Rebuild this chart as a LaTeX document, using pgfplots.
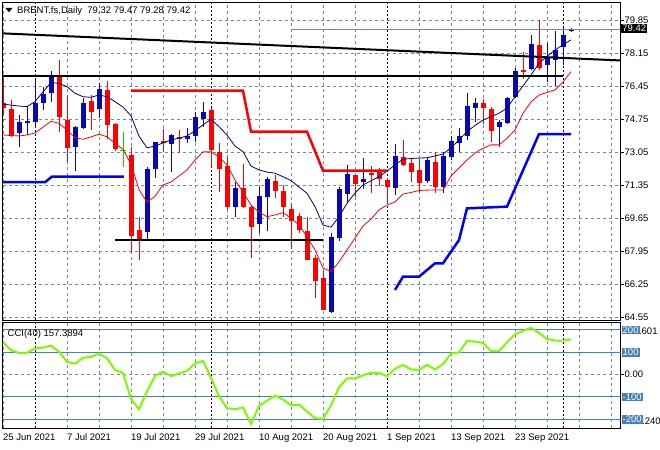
\documentclass[border=0pt]{standalone}
\usepackage{fontspec}
\setmainfont{Liberation Sans}
\usepackage{pgfplots}
\usepackage{pgfplotstable}
\pgfplotsset{compat=1.18}

\definecolor{gridc}{RGB}{119,136,153}
\definecolor{bullbody}{RGB}{12,12,150}
\definecolor{bullwick}{RGB}{0,0,235}
\definecolor{bearc}{RGB}{255,0,0}
\definecolor{manavy}{RGB}{0,0,128}
\definecolor{ccig}{RGB}{124,252,0}
\definecolor{steel}{RGB}{70,130,180}
\definecolor{stepblue}{RGB}{0,0,255}
\definecolor{dojig}{RGB}{0,220,0}

\newcommand\mtf{\fontsize{9.5bp}{11bp}\selectfont}

% bullish candles: bar index, open, high, low, close
\pgfplotstableread{
i O H L C
2 74.08 74.99 73.36 74.65
3 74.60 75.42 73.96 74.70
4 74.65 76.80 74.31 75.59
5 75.59 76.45 75.25 76.07
6 76.14 77.27 75.68 77.05
9 73.36 74.42 72.12 74.36
10 74.31 75.85 74.26 75.59
12 75.29 76.63 74.82 76.32
18 68.98 72.30 68.60 72.21
19 72.19 73.62 71.73 73.58
21 73.48 74.01 72.07 73.95
23 73.77 74.31 73.53 73.91
24 73.91 75.16 73.62 74.87
25 74.79 75.68 74.39 75.13
29 70.27 71.52 69.75 71.25
32 69.36 71.30 68.93 70.83
33 70.78 71.78 69.03 71.68
41 64.86 68.90 64.80 68.72
42 68.67 71.30 68.50 71.18
43 70.91 72.42 70.47 71.95
45 71.52 72.76 71.16 71.69
49 71.25 73.50 70.87 72.88
53 71.61 72.84 71.50 72.67
55 71.30 73.10 70.99 72.88
56 72.84 73.91 72.67 73.65
57 73.57 74.31 73.07 73.91
58 73.91 76.11 73.70 75.46
59 75.37 75.85 74.65 75.59
62 74.39 74.73 73.36 74.65
63 74.56 75.90 74.50 75.85
64 75.90 77.40 75.85 77.26
66 77.35 79.11 77.31 78.65
68 77.55 78.72 76.71 77.94
69 77.83 79.33 76.49 78.34
70 78.51 79.46 77.57 79.11
71 79.32 79.47 79.28 79.42
}\bull

% bearish candles
\pgfplotstableread{
i O H L C
0 75.59 76.88 74.99 75.34
1 75.30 75.76 73.87 73.93
7 77.05 77.83 74.13 74.90
8 74.73 76.02 72.58 73.31
11 75.71 76.02 74.22 75.16
13 76.28 76.76 73.76 74.48
14 74.53 74.60 73.15 73.24
16 72.93 73.36 67.87 68.76
17 69.07 69.75 67.52 68.59
20 73.65 74.25 73.10 73.58
22 73.86 74.22 73.05 73.79
26 75.25 75.34 72.33 73.19
27 73.07 73.53 71.04 72.21
28 72.36 72.81 70.13 70.27
30 71.25 72.45 70.20 70.27
31 70.27 70.30 67.61 69.24
34 71.59 71.90 70.70 71.09
35 71.08 71.39 69.75 70.24
36 70.15 70.47 68.07 69.55
37 69.79 69.93 68.90 69.07
38 69.02 69.75 67.50 67.52
39 67.61 67.78 65.55 66.45
40 66.58 66.97 64.93 64.95
44 71.90 71.92 70.78 71.44
46 71.99 72.36 70.99 71.90
47 72.07 72.25 71.33 71.68
48 71.64 71.73 70.41 71.30
50 72.81 73.70 72.36 72.42
51 72.53 72.76 71.52 72.04
52 72.16 72.71 71.04 71.50
54 72.55 73.10 70.96 71.30
60 75.59 75.80 74.53 75.34
61 75.30 75.42 73.62 74.18
65 77.31 78.25 76.83 77.22
67 78.60 79.89 77.31 77.43
}\bear

\pgfplotsset{
 mt/.style={
  scale only axis, width=618bp, xmin=-0.0625, xmax=77.1875, anchor=north west,
  axis line style={black, line width=0.8bp},
  ytick pos=right, yticklabel pos=right, tick align=outside,
  major tick length=3bp, minor tick length=0pt,
  xtick style={draw=none}, ytick style={black, line width=0.6bp},
  xmajorgrids, xminorgrids, ymajorgrids,
  major grid style={gridc, dash pattern=on 3bp off 3bp, line width=0.6bp},
  minor grid style={gridc, dash pattern=on 3bp off 3bp, line width=0.6bp},
  xtick={0,8,16,24,32,40,56,64},
  minor xtick={12,20,28,36,44,52,60,68,72,76},
  extra x ticks={4,26,48,70},
  extra x tick style={grid=major, xtick style={draw=none},
     major grid style={black, dash pattern=on 2bp off 2bp, line width=0.8bp}},
  tick label style={font=\mtf},
  yticklabel style={anchor=west, inner sep=1bp},
  clip=true,
 },
 wick/.style={only marks, mark size=0pt, mark options={draw=none, fill=none}, forget plot,
   error bars/.cd, y dir=both, y explicit, error mark=none,
   error bar style={draw=#1, line width=1bp, solid}},
 body/.style 2 args={only marks, mark size=0pt, mark options={draw=none, fill=none}, forget plot,
   error bars/.cd, y dir=both, y explicit, error mark=none,
   error bar style={draw=#1, line width=#2, solid}},
}

\begin{document}
\begin{tikzpicture}[x=1bp,y=1bp]
\path[use as bounding box, fill=white] (0,0) rectangle (660,-450);

% ---------------- main price panel ----------------
\begin{axis}[mt, at={(2.5bp,-2bp)}, height=318bp,
  ymin=64.43, ymax=80.81,
  ytick={64.55,66.25,67.95,69.65,71.35,73.05,74.75,76.45,78.15,79.85},
  yticklabels={64.55,66.25,67.95,69.65,71.35,73.05,74.75,76.45,78.15,79.85},
  xticklabels={}, extra x tick labels={}]

% bearish candles
\addplot[wick=bearc] table[x=i, y expr={(\thisrow{H}+\thisrow{L})/2}, y error expr={(\thisrow{H}-\thisrow{L})/2}] {\bear};
\addplot[body={bearc}{5bp}] table[x=i, y expr={(\thisrow{O}+\thisrow{C})/2}, y error expr={(\thisrow{O}-\thisrow{C})/2}] {\bear};
% bullish candles
\addplot[wick=bullwick] table[x=i, y expr={(\thisrow{H}+\thisrow{L})/2}, y error expr={(\thisrow{H}-\thisrow{L})/2}] {\bull};
\addplot[body={bullwick}{5bp}] table[x=i, y expr={(\thisrow{O}+\thisrow{C})/2}, y error expr={(\thisrow{C}-\thisrow{O})/2}] {\bull};
\addplot[body={bullbody}{3bp}] table[x=i, y expr={(\thisrow{O}+\thisrow{C})/2}, y error expr={max((\thisrow{C}-\thisrow{O})/2-0.05,0)}] {\bull};
% doji (bar 15)
\addplot[only marks, mark size=0pt, mark options={draw=none, fill=none}, forget plot, error bars/.cd, y dir=both, y explicit, error mark=none,
  error bar style={draw=dojig, line width=1bp}] coordinates {(15,73.215) +- (0,0.885)};
\addplot[only marks, mark size=0pt, mark options={draw=none, fill=none}, forget plot, error bars/.cd, x dir=both, x explicit, error mark=none,
  error bar style={draw=dojig, line width=1bp}] coordinates {(15,73.14) +- (0.375,0)};

% navy moving average
\addplot[manavy, line width=0.8bp, mark=none] coordinates {
(0,75.55)(1,75.50)(2,75.45)(3,75.42)(4,75.68)(5,76.18)(6,76.66)(7,76.62)(8,76.45)(9,76.11)
(10,75.93)(11,75.90)(12,76.02)(13,75.93)(14,75.68)(15,75.40)(16,74.95)(17,73.90)(18,73.30)(19,73.39)
(20,73.55)(21,73.70)(22,73.80)(23,73.91)(24,74.18)(25,74.48)(26,74.77)(27,74.39)(28,73.96)(29,73.39)
(30,73.10)(31,72.36)(32,72.16)(33,72.05)(34,71.99)(35,71.81)(36,71.61)(37,71.28)(38,70.96)(39,70.27)
(40,69.32)(41,69.21)(42,69.75)(43,70.44)(44,70.97)(45,71.39)(46,71.60)(47,71.81)(48,72.10)(49,72.42)
(50,72.71)(51,72.75)(52,72.77)(53,72.79)(54,72.88)(55,72.98)(56,73.30)(57,73.70)(58,74.13)(59,74.45)
(60,74.73)(61,74.90)(62,75.08)(63,75.34)(64,75.93)(65,76.49)(66,77.05)(67,77.66)(68,78.00)(69,78.34)
(70,78.60)(71,78.86)};
% red moving average
\addplot[bearc, line width=0.8bp, mark=none] coordinates {
(0,73.96)(1,73.93)(2,73.91)(3,73.96)(4,74.06)(5,74.36)(6,74.67)(7,74.56)(8,74.22)(9,73.81)
(10,73.74)(11,73.86)(12,74.00)(13,73.87)(14,73.53)(15,73.22)(16,72.45)(17,71.15)(18,70.50)(19,70.80)
(20,71.39)(21,71.54)(22,71.85)(23,72.16)(24,72.67)(25,73.09)(26,73.09)(27,72.83)(28,72.42)(29,71.64)
(30,71.02)(31,70.35)(32,69.99)(33,69.75)(34,69.84)(35,69.96)(36,69.68)(37,69.32)(38,68.72)(39,68.04)
(40,67.11)(41,66.92)(42,67.42)(43,68.04)(44,68.65)(45,69.27)(46,69.63)(47,70.10)(48,70.35)(49,70.51)
(50,70.92)(51,71.00)(52,71.10)(53,71.12)(54,71.13)(55,71.13)(56,71.85)(57,72.26)(58,72.67)(59,73.03)
(60,73.28)(61,73.45)(62,73.45)(63,73.79)(64,74.22)(65,75.08)(66,75.66)(67,76.02)(68,76.15)(69,76.28)
(70,76.69)(71,77.22)};

% step lines
\addplot[bearc, line width=2.5bp, mark=none] coordinates {(16,76.24)(30,76.24)(31,74.13)(38,74.13)(40,72.12)(48,72.12)};
\addplot[stepblue, line width=2.5bp, mark=none] coordinates {(0,71.53)(5.25,71.53)(6.1,71.81)(15.1,71.81)};
\addplot[stepblue, line width=2.5bp, mark=none] coordinates {(49,65.98)(50,66.66)(52,66.66)(54,67.35)(55,67.35)(57,68.55)(58,70.18)(63,70.27)(67,74.01)(71,74.01)};

% price line
\addplot[gridc, line width=0.8bp, mark=none] coordinates {(36,79.42)(78,79.42)};

% black lines
\addplot[black, line width=2bp, mark=none] coordinates {(-0.375,79.20)(77.125,77.80)};
\addplot[black, line width=2bp, mark=none] coordinates {(-1,77.02)(70,77.02)};
\addplot[black, line width=2bp, mark=none] coordinates {(14,68.55)(40,68.55)};
\end{axis}

% ---------------- CCI panel ----------------
\begin{axis}[mt, at={(2.5bp,-322.7bp)}, height=105.6bp,
  ymin=-240.24, ymax=231.601,
  ytick={0}, yticklabels={0.00},
  xticklabels={25 Jun 2021,7 Jul 2021,19 Jul 2021,29 Jul 2021,10 Aug 2021,20 Aug 2021,13 Sep 2021,23 Sep 2021},
  extra x tick labels={,,1 Sep 2021,},
  xticklabel style={anchor=north west, inner sep=0pt, yshift=-2bp, font=\mtf}]
\addplot[steel, line width=1bp, mark=none] coordinates {(-1,200)(78,200)};
\addplot[steel, line width=1bp, mark=none] coordinates {(-1,100)(78,100)};
\addplot[steel, line width=1bp, mark=none] coordinates {(-1,-100)(78,-100)};
\addplot[steel, line width=1bp, mark=none] coordinates {(-1,-200)(78,-200)};
\addplot[ccig, line width=2bp, mark=none] coordinates {
(0,144)(1,109)(2,96)(3,97)(4,117)(5,120)(6,129)(7,102)(8,57)(9,49)
(10,75)(11,79)(12,94)(13,73)(14,20)(15,8)(16,-109)(17,-155)(18,-75)(19,-7)
(20,13)(21,-7)(22,5)(23,16)(24,49)(25,61)(26,-14)(27,-97)(28,-150)(29,-155)
(30,-147)(31,-221)(32,-140)(33,-117)(34,-94)(35,-112)(36,-137)(37,-135)(38,-165)(39,-195)
(40,-198)(41,-138)(42,-57)(43,-17)(44,-17)(45,-4)(46,8)(47,7)(48,-7)(49,26)
(50,43)(51,23)(52,20)(53,43)(54,23)(55,46)(56,94)(57,99)(58,150)(59,147)
(60,141)(61,105)(62,105)(63,144)(64,180)(65,195)(66,209)(67,186)(68,159)(69,152)
(70,152)(71,157.39)};
\end{axis}

% ---------------- texts ----------------
\fill[black] (5.5,-8) -- (12.5,-8) -- (9,-12.3) -- cycle;
\node[anchor=base west, inner sep=0pt] at (17,-13.5) {\mtf BRENT.fs,Daily\ \ 79.32 79.47 79.28 79.42};
\node[anchor=base west, inner sep=0pt] at (7.5,-336) {\mtf CCI(40) 157.3894};

\node[anchor=west, fill=black, text=white, inner sep=1.2bp] at (621,-28.5) {\mtf 79.42};

\node[anchor=west, inner sep=0pt] at (623,-331) {\mtf 231.601};
\node[anchor=west, fill=steel, text=white, inner sep=1bp] at (621.5,-330) {\mtf 200};
\node[anchor=west, fill=steel, text=white, inner sep=1bp] at (621.5,-352.5) {\mtf 100};
\node[anchor=west, fill=steel, text=white, inner sep=1bp] at (621.5,-397) {\mtf -100};
\node[anchor=west, inner sep=0pt] at (623,-421) {\mtf -240.240};
\node[anchor=west, fill=steel, text=white, inner sep=1bp] at (621.5,-419.5) {\mtf -200};
\end{tikzpicture}
\end{document}
